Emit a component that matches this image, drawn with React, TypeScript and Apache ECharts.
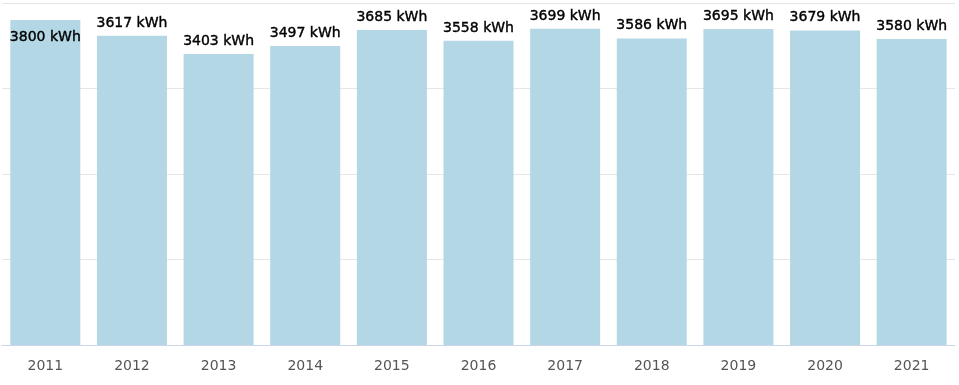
import React, { useEffect, useRef } from "react";
import * as echarts from "echarts";

const years = ["2011", "2012", "2013", "2014", "2015", "2016", "2017", "2018", "2019", "2020", "2021"];
const energy = [3800, 3617, 3403, 3497, 3685, 3558, 3699, 3586, 3695, 3679, 3580];

export default function App() {
  const ref = useRef<HTMLDivElement>(null);
  useEffect(() => {
    if (!ref.current) return;
    const chart = echarts.init(ref.current, null, { renderer: "svg" });
    const maxVal = Math.max(...energy);
    chart.setOption({
      animation: false,
      grid: { left: 2, right: 4, top: 3, bottom: 40, containLabel: false },
      xAxis: {
        type: "category",
        data: years,
        axisLine: { lineStyle: { color: "#ccd6eb", width: 1 } },
        axisTick: { alignWithLabel: true, length: 11, lineStyle: { color: "#ccd6eb" } },
        axisLabel: { color: "#555555", fontSize: 14, fontFamily: "DejaVu Sans", margin: 13 },
      },
      yAxis: {
        type: "value",
        min: 0,
        max: 4000,
        interval: 1000,
        axisLabel: { show: false },
        axisLine: { show: false },
        axisTick: { show: false },
        splitLine: { lineStyle: { color: "#e6e6e6", width: 1 } },
      },
      series: [
        {
          type: "bar",
          barWidth: 70,
          data: energy.map((v) => ({
            value: v,
            label: v === maxVal ? { position: "insideTop", distance: 9 } : undefined,
          })),
          itemStyle: { color: "#b3d7e5" },
          label: {
            show: true,
            position: "top",
            distance: 7,
            formatter: (p: any) => `${p.value} kWh`,
            color: "#000000",
            fontSize: 14,
            fontFamily: "DejaVu Sans",
            textBorderColor: "#000000",
            textBorderWidth: 0.4,
          },
        },
      ],
    });
    return () => chart.dispose();
  }, []);
  return <div ref={ref} style={{ position: "fixed", left: 0, top: 0, width: 959, height: 385 }} />;
}
